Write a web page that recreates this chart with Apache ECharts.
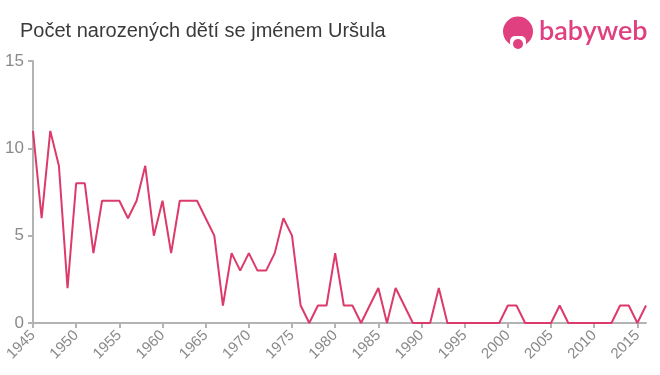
<!DOCTYPE html>
<html><head><meta charset="utf-8">
<script src="https://cdn.jsdelivr.net/npm/echarts@6/dist/echarts.min.js"></script>
<style>html,body{margin:0;padding:0;background:#fff}#c{width:660px;height:375px}</style>
</head><body><div id="c"></div>
<script>
const years = [];
for (let y = 1945; y <= 2016; y++) years.push(y);
const values = [11,6,11,9,2,8,8,4,7,7,7,6,7,9,5,7,4,7,7,7,
  6,5,1,4,3,4,3,3,4,6,5,1,0,1,1,4,1,1,0,1,2,0,2,1,0,
  0,0,2,0,0,0,0,0,0,0,1,1,0,0,0,0,1,0,0,0,0,0,0,1,1,0,1];
const yTicks = [0,5,10,15];
const titleText = 'Počet narozených dětí se jménem Uršula';

const chart = echarts.init(document.getElementById('c'));
chart.setOption({
  animation: false,
  title: {text: titleText, left: 15, top: 16, textStyle: {fontFamily: 'Liberation Sans, Arial', fontSize: 20, fontWeight: 'normal', color: '#3a3a3a'}},
  grid: {left: 33, right: 14, top: 61, bottom: 52},
  xAxis: {type: 'value', min: 1945, max: 2016, interval: 5,
    axisLine: {lineStyle: {color: '#b3b3b3', width: 2}},
    axisTick: {show: true, length: 5, lineStyle: {color: '#b3b3b3', width: 2}},
    splitLine: {show: false},
    axisLabel: {rotate: 45, color: '#8a8a8a', fontSize: 15, fontFamily: 'Liberation Sans, Arial', margin: 10, showMaxLabel: false,
      formatter: v => String(v)}},
  yAxis: {type: 'value', min: 0, max: 15, interval: 5,
    axisLine: {show: true, lineStyle: {color: '#b3b3b3', width: 2}},
    axisTick: {show: true, length: 5, lineStyle: {color: '#b3b3b3', width: 2}},
    splitLine: {show: false},
    axisLabel: {color: '#8a8a8a', fontSize: 17, fontFamily: 'Liberation Sans, Arial', margin: 9}},
  series: [{type: 'line', data: years.map((y, i) => [y, values[i]]), showSymbol: false,
    lineStyle: {color: '#dc3a6a', width: 2}, itemStyle: {color: '#dc3a6a'}}],
  graphic: [
    {type: 'circle', shape: {cx: 518, cy: 31.5, r: 15}, style: {fill: '#e0407f'}},
    {type: 'rect', shape: {x: 510, y: 36, width: 16, height: 12, r: 5}, style: {fill: '#fff'}},
    {type: 'circle', shape: {cx: 518, cy: 44, r: 5}, style: {fill: '#e0407f'}},
    {type: 'text', left: 539, top: 18, style: {text: 'babyweb', fill: '#e0407f', fontSize: 27, fontFamily: 'Lato, Noto Sans', fontWeight: 600}}
  ]
});
</script></body></html>
